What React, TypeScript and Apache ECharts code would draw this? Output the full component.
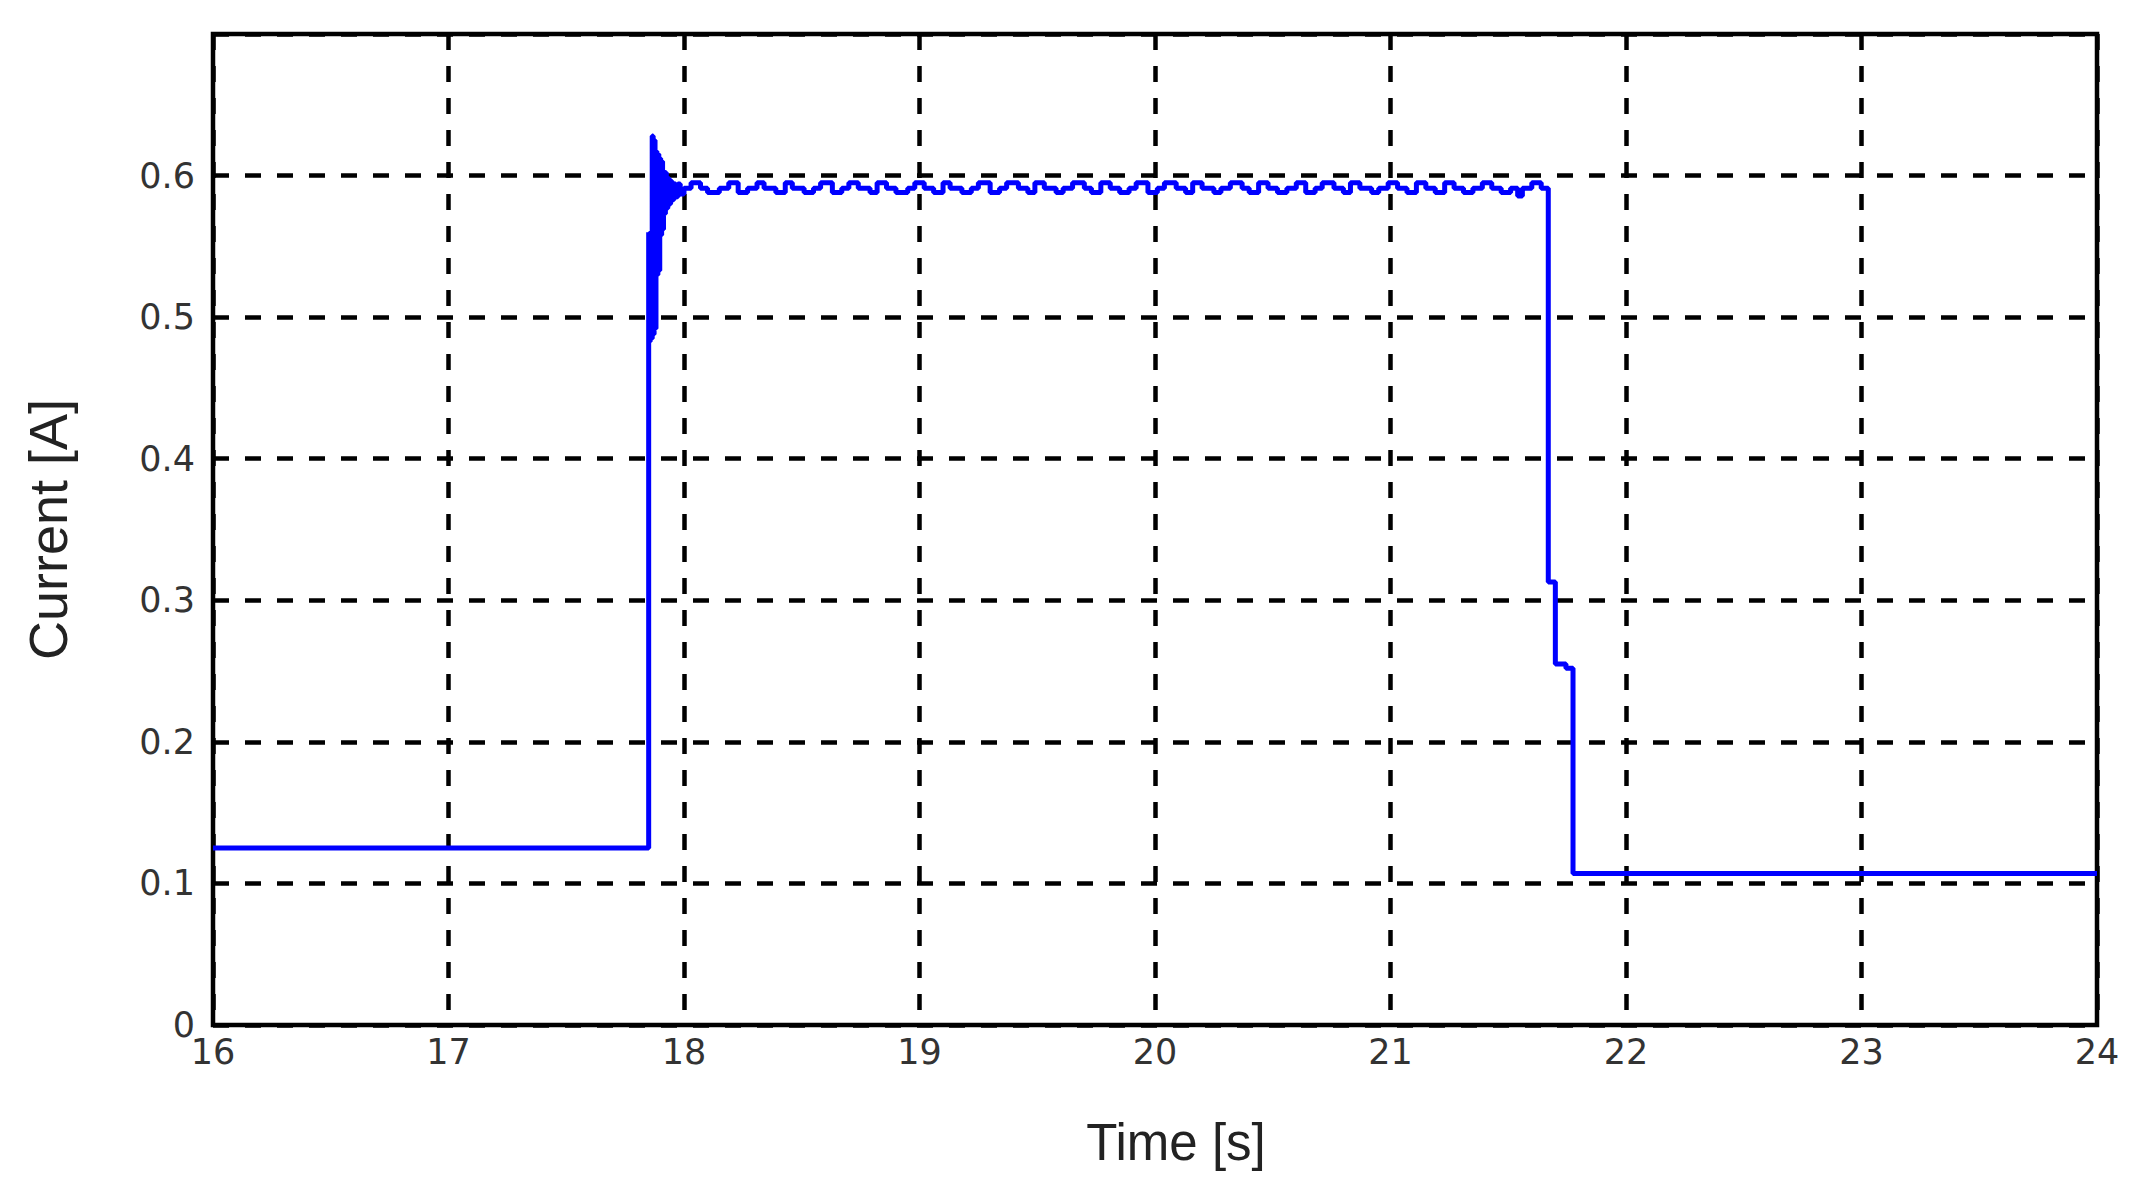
import React, { useEffect, useRef } from "react";
import * as echarts from "echarts";

// Time [s], Current [A] pairs (zero-order hold / step signal)
const baseSegment: [number, number][] = [
  [16.0, 0.125],
];

const transientSegment: [number, number][] = [
  [17.85, 0.56],
  [17.853, 0.483],
  [17.857, 0.56],
  [17.861, 0.485],
  [17.865, 0.628],
  [17.869, 0.488],
  [17.873, 0.625],
  [17.877, 0.492],
  [17.881, 0.617],
  [17.885, 0.53],
  [17.889, 0.615],
  [17.893, 0.533],
  [17.897, 0.612],
  [17.901, 0.558],
  [17.905, 0.61],
  [17.909, 0.562],
  [17.913, 0.603],
  [17.917, 0.573],
  [17.921, 0.602],
  [17.925, 0.577],
  [17.931, 0.598],
  [17.937, 0.58],
  [17.943, 0.596],
  [17.949, 0.583],
  [17.957, 0.594],
  [17.965, 0.585],
  [17.974, 0.594],
  [17.984, 0.587],
];

const steadySegment: [number, number][] = [
  [18.0, 0.591], [18.03, 0.595], [18.07, 0.591], [18.1, 0.588], [18.15, 0.591],
  [18.19, 0.595], [18.23, 0.588], [18.27, 0.591], [18.31, 0.595], [18.34, 0.591],
  [18.39, 0.588], [18.43, 0.595], [18.46, 0.591], [18.51, 0.588], [18.55, 0.591],
  [18.58, 0.595], [18.63, 0.588], [18.67, 0.591], [18.7, 0.595], [18.74, 0.591],
  [18.79, 0.588], [18.82, 0.595], [18.86, 0.591], [18.9, 0.588], [18.95, 0.591],
  [18.98, 0.595], [19.02, 0.591], [19.06, 0.588], [19.1, 0.595], [19.13, 0.591],
  [19.18, 0.588], [19.22, 0.591], [19.25, 0.595], [19.3, 0.588], [19.34, 0.591],
  [19.37, 0.595], [19.42, 0.591], [19.46, 0.588], [19.49, 0.595], [19.53, 0.591],
  [19.58, 0.588], [19.61, 0.591], [19.65, 0.595], [19.7, 0.591], [19.73, 0.588],
  [19.77, 0.595], [19.81, 0.591], [19.85, 0.588], [19.89, 0.591], [19.92, 0.595],
  [19.97, 0.588], [20.01, 0.591], [20.04, 0.595], [20.09, 0.591], [20.13, 0.588],
  [20.16, 0.595], [20.2, 0.591], [20.25, 0.588], [20.28, 0.591], [20.32, 0.595],
  [20.37, 0.591], [20.4, 0.588], [20.44, 0.595], [20.48, 0.591], [20.52, 0.588],
  [20.56, 0.591], [20.6, 0.595], [20.64, 0.588], [20.68, 0.591], [20.71, 0.595],
  [20.76, 0.591], [20.8, 0.588], [20.83, 0.595], [20.87, 0.591], [20.92, 0.588],
  [20.95, 0.591], [20.99, 0.595], [21.03, 0.591], [21.07, 0.588], [21.11, 0.595],
  [21.15, 0.591], [21.19, 0.588], [21.23, 0.595], [21.27, 0.591], [21.31, 0.588],
  [21.35, 0.591], [21.39, 0.595], [21.43, 0.591], [21.47, 0.588], [21.51, 0.591],
  [21.54, 0.5855], [21.56, 0.591], [21.6, 0.595], [21.64, 0.591],
];

const dropSegment: [number, number][] = [
  [21.67, 0.313],
  [21.7, 0.255],
  [21.745, 0.252],
  [21.775, 0.107],
  [24.0, 0.107],
];

const xTicks = [16, 17, 18, 19, 20, 21, 22, 23, 24];
const yTicks = [0, 0.1, 0.2, 0.3, 0.4, 0.5, 0.6];

const App: React.FC = () => {
  const ref = useRef<HTMLDivElement>(null);

  useEffect(() => {
    if (!ref.current) return;
    const chart = echarts.init(ref.current, undefined, { renderer: "svg" });
    const data = [...baseSegment, ...transientSegment, ...steadySegment, ...dropSegment];
    const labelFont = {
      color: "#333",
      fontSize: 35,
      fontFamily: "DejaVu Sans",
    };
    chart.setOption({
      animation: false,
      backgroundColor: "#fff",
      grid: {
        left: 213,
        right: 42,
        top: 34,
        bottom: 167,
        show: true,
        borderColor: "#000",
        borderWidth: 4.5,
        backgroundColor: "transparent",
      },
      xAxis: {
        type: "value",
        min: xTicks[0],
        max: xTicks[xTicks.length - 1],
        interval: 1,
        name: "Time [s]",
        nameLocation: "middle",
        nameGap: 92,
        nameTextStyle: {
          color: "#222",
          fontSize: 51,
          fontFamily: "Liberation Sans",
          padding: [0, 0, 0, 42],
        },
        axisLine: { show: false },
        axisTick: { show: false },
        axisLabel: { ...labelFont, margin: 9 },
        splitLine: {
          show: true,
          lineStyle: { color: "#000", width: 4.5, type: [16, 16] },
        },
      },
      yAxis: {
        type: "value",
        min: 0,
        max: 0.7,
        interval: 0.1,
        name: "Current [A]",
        nameLocation: "middle",
        nameGap: 138,
        nameTextStyle: {
          color: "#222",
          fontSize: 54,
          fontFamily: "Liberation Sans",
        },
        axisLine: { show: false },
        axisTick: { show: false },
        axisLabel: {
          ...labelFont,
          margin: 18,
          formatter: (v: number) => {
            const r = Math.round(v * 10) / 10;
            if (!yTicks.some((t) => Math.abs(t - r) < 1e-9)) return "";
            return r === 0 ? "0" : r.toFixed(1);
          },
        },
        splitLine: {
          show: true,
          lineStyle: { color: "#000", width: 4.5, type: [16, 16] },
        },
      },
      series: [
        {
          type: "line",
          data,
          step: "end",
          showSymbol: false,
          symbol: "none",
          lineStyle: { color: "#0000ff", width: 5 },
          z: 3,
        },
      ],
    });
    return () => chart.dispose();
  }, []);

  return (
    <div
      ref={ref}
      style={{ position: "fixed", left: 0, top: 0, width: 2139, height: 1192, background: "#fff" }}
    />
  );
};

export default App;
